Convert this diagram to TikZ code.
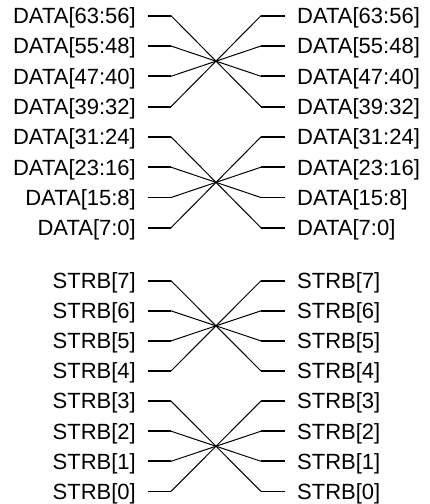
\documentclass[tikz,border=0pt]{standalone}
\usepackage{fontspec}
\setmainfont{Liberation Sans}
\begin{document}
\begin{tikzpicture}[x=1pt,y=-1pt,
  lbl/.style={inner sep=0pt,font=\fontsize{22}{26}\selectfont},
  stub/.style={line width=1.8pt},
  wire/.style={line width=1pt}]
\useasboundingbox (0,0) rectangle (429,504);
% rows: index / label text / y
\foreach \k/\t/\y in {0/DATA[63:56]/15.7,1/DATA[55:48]/46.0,2/DATA[47:40]/76.3,3/DATA[39:32]/106.6,
  4/DATA[31:24]/136.9,5/DATA[23:16]/167.2,6/DATA[15:8]/197.5,7/DATA[7:0]/227.8,
  8/STRB[7]/280.7,9/STRB[6]/310.8,10/STRB[5]/340.9,11/STRB[4]/371.0,
  12/STRB[3]/401.1,13/STRB[2]/431.2,14/STRB[1]/461.3,15/STRB[0]/491.4}{
  \node[lbl,anchor=base east] (L\k) at (136,\y+7.8) {\t};
  \node[lbl,anchor=base west] (R\k) at (297,\y+7.8) {\t};
  \coordinate (la\k) at (148,\y);
  \coordinate (lb\k) at (171,\y);
  \coordinate (ra\k) at (261,\y);
  \coordinate (rb\k) at (285,\y);
  \draw[stub] (la\k) -- (lb\k);
  \draw[stub] (ra\k) -- (rb\k);
}
\foreach \a/\b in {0/3,1/2,2/1,3/0,4/7,5/6,6/5,7/4,8/11,9/10,10/9,11/8,12/15,13/14,14/13,15/12}{
  \draw[wire] (lb\a) -- (ra\b);
}
\end{tikzpicture}
\end{document}
